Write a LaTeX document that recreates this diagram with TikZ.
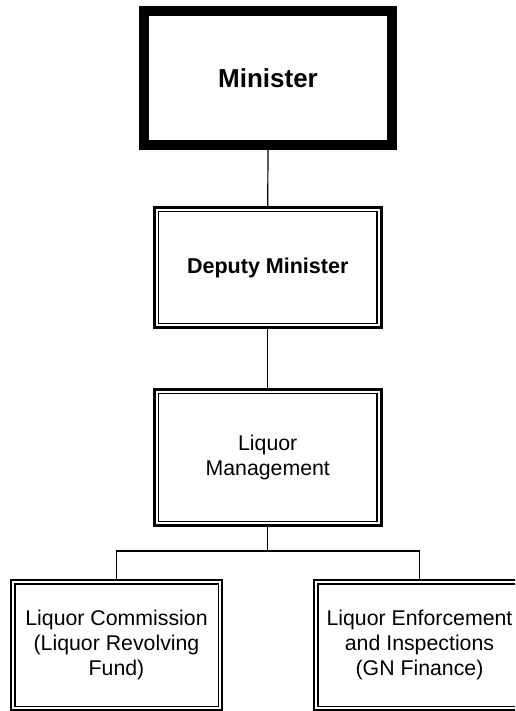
\documentclass[tikz,border=0pt]{standalone}
\usepackage{fontspec}
\setmainfont{Liberation Sans}
\usetikzlibrary{calc}
\tikzset{
  box/.style={draw, rectangle, outer sep=0pt, inner sep=0pt, align=center,
    font=\fontsize{21.3}{25}\selectfont},
  bigbox/.style={box, line width=3pt, minimum width=226.5pt, minimum height=#1},
  smallbox/.style={box, line width=2pt, minimum width=211pt, minimum height=130pt},
  conn/.style={line width=1.2pt}
}
\newcommand{\innerframe}[2]{%
  \draw[line width=1.4pt] ($(#1.north west)+(#2,#2)$) rectangle ($(#1.south east)+(-#2,-#2)$);}
\begin{document}
\begin{tikzpicture}[x=1pt,y=-1pt]
\useasboundingbox (0,0) rectangle (515,711);
\fill[white] (0,0) rectangle (515,711);
\begin{scope}
\clip (0,0) rectangle (515,711);
\node[box, line width=10pt, minimum width=248pt, minimum height=134pt,
      font=\bfseries\fontsize{26}{30}\selectfont] (min) at (268,78) {Minister};
\node[bigbox=120pt, font=\bfseries\fontsize{21.5}{25}\selectfont] (dep) at (267.75,267.5) {Deputy Minister};
\innerframe{dep}{4.2}
\node[bigbox=136pt] (lm) at (267.75,457.5) {Liquor\\Management};
\innerframe{lm}{4.2}
\node[smallbox] (lc) at (116.5,645) {Liquor Commission\\(Liquor Revolving\\Fund)};
\innerframe{lc}{3.8}
\node[smallbox] (le) at (419.5,645) {Liquor Enforcement\\and Inspections\\(GN Finance)};
\innerframe{le}{3.8}
\coordinate (j) at ($(lm.south)+(0,25.5)$);
\draw[conn] (min.south) -- (dep.north);
\draw[conn] (dep.south) -- (lm.north);
\draw[conn] (lm.south) -- (j) -| (lc.north);
\draw[conn] (j) -| (le.north);
\end{scope}
\end{tikzpicture}
\end{document}
